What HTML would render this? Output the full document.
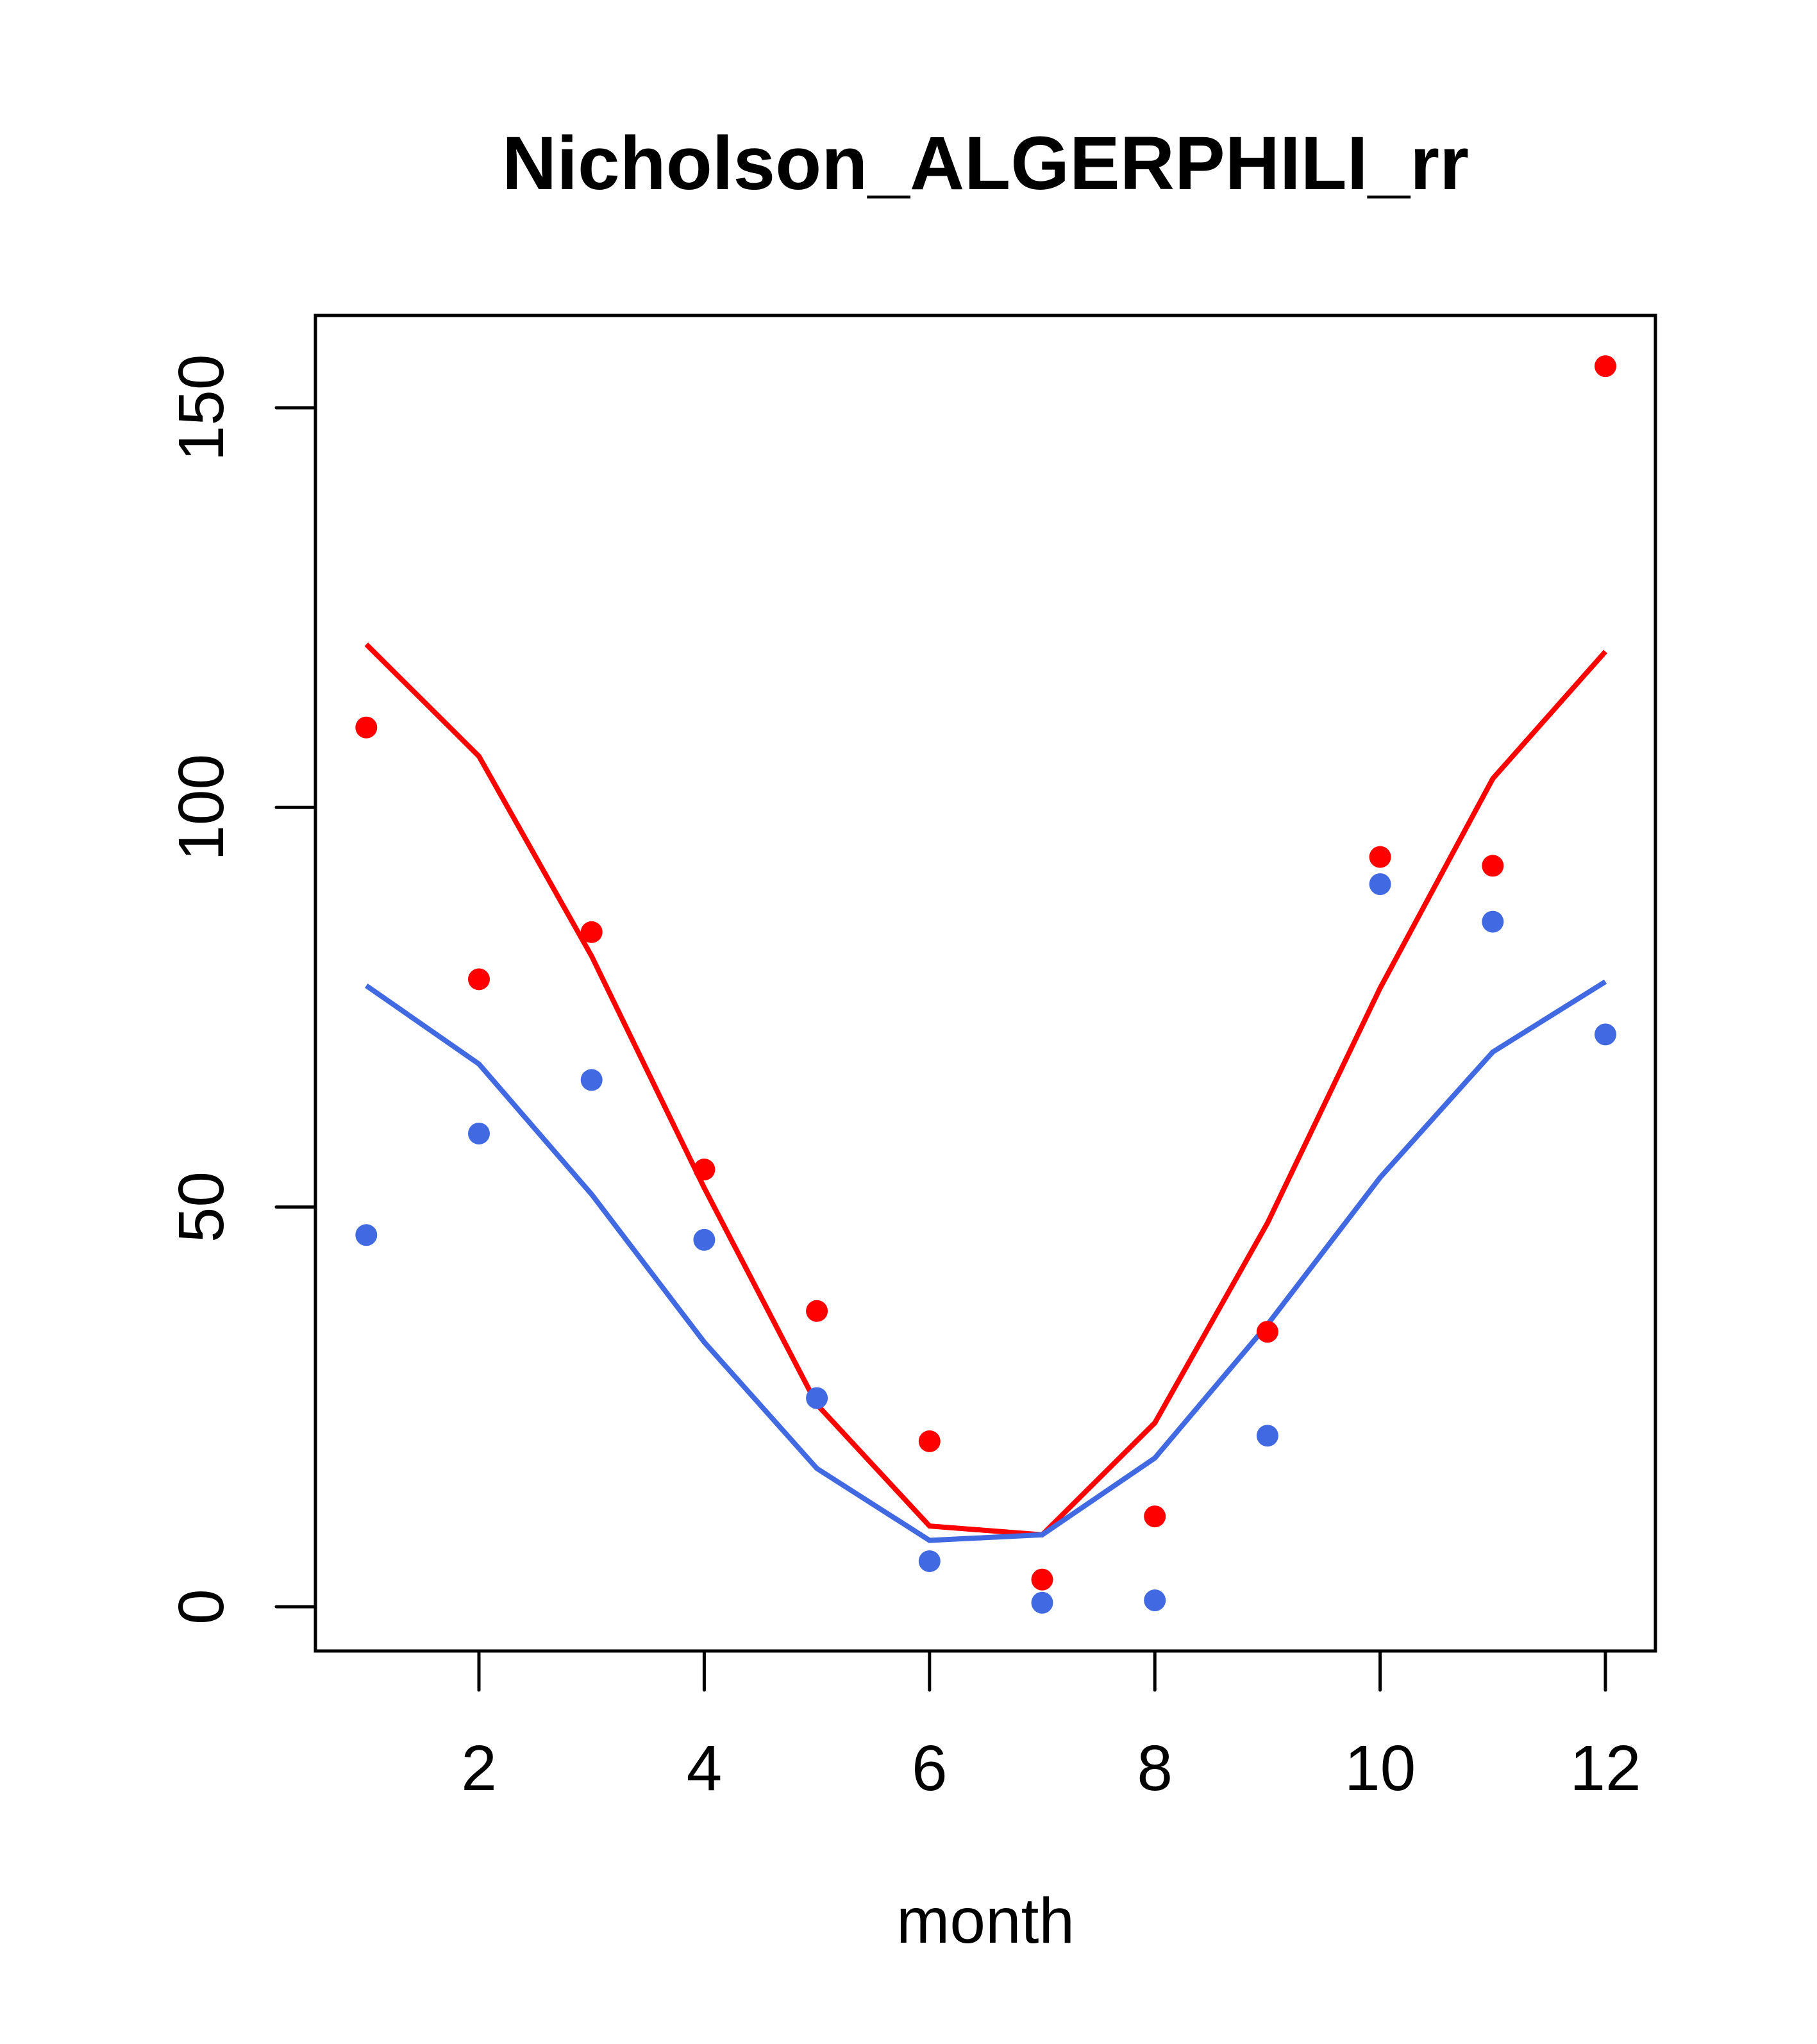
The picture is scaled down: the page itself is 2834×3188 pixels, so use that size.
<!DOCTYPE html>
<html><head><meta charset="utf-8"><style>html,body{margin:0;padding:0;background:#fff}svg{display:block}</style></head>
<body>
<svg id="chart" width="2834" height="3188" xmlns="http://www.w3.org/2000/svg" font-family="Liberation Sans, sans-serif">
<rect width="2834" height="3188" fill="#fff"/>
<text x="1537" y="295" font-size="118" font-weight="bold" text-anchor="middle">Nicholson_ALGERPHILI_rr</text>
<rect x="492" y="492" width="2090" height="2083" fill="none" stroke="#000" stroke-width="5"/>
<g id="axes"></g>
<g id="marks"></g>
<text x="1537" y="3030" font-size="100" text-anchor="middle">month</text>
</svg>
<script>
const months = [1,2,3,4,5,6,7,8,9,10,11,12];
const redPoints = [110,78.5,84.4,54.7,37,20.7,3.4,11.3,34.4,93.8,92.7,155.2];
const bluePoints = [46.5,59.2,65.9,45.9,26.1,5.7,0.5,0.8,21.4,90.4,85.7,71.6];
const redLine = [120.4,106.4,81.4,52.4,25.3,10.1,9.0,23.0,48.0,77.4,103.6,119.5];
const blueLine = [77.7,67.9,51.6,33.1,17.3,8.3,9.0,18.6,35.3,53.7,69.4,78.2];
const xTicks = [2,4,6,8,10,12];
const yTicks = [0,50,100,150];

const NS = 'http://www.w3.org/2000/svg';
function xs(m){return 747 + (m-2)*175.7;}
function ys(v){return 2506 - v*12.467;}
function mk(tag, attrs, parent){const e=document.createElementNS(NS,tag);for(const k in attrs)e.setAttribute(k,attrs[k]);parent.appendChild(e);return e;}
const axes=document.getElementById('axes'), marks=document.getElementById('marks');

xTicks.forEach(t=>{
  const l=mk('line',{x1:xs(t),x2:xs(t),y1:2575,y2:2636,stroke:'#000','stroke-width':5,'stroke-linecap':'round'},axes);
  
  
  const tx=mk('text',{x:xs(t),y:2792,'font-size':100,'text-anchor':'middle'},axes);
  tx.textContent=t;
  
  
});
yTicks.forEach(t=>{
  const l=mk('line',{x1:431,x2:492,y1:ys(t),y2:ys(t),stroke:'#000','stroke-width':5,'stroke-linecap':'round'},axes);
  
  
  const tx=mk('text',{x:348,y:ys(t),'font-size':100,'text-anchor':'middle',transform:`rotate(-90 348 ${ys(t)})`},axes);
  tx.textContent=t;
  
  
});
function line(vals,color,name){
  const p=mk('polyline',{points:vals.map((v,i)=>xs(months[i])+','+ys(v)).join(' '),fill:'none',stroke:color,'stroke-width':8}, marks);
  
  
}
function pts(vals,color,name){
  vals.forEach((v,i)=>{
    const c=mk('circle',{cx:xs(months[i]),cy:ys(v),r:17,fill:color},marks);
    
    
  });
}
line(redLine,'#ff0000','red-line');
line(blueLine,'#4169e1','blue-line');
pts(redPoints,'#ff0000','red-point');
pts(bluePoints,'#4169e1','blue-point');
</script>
</body></html>
